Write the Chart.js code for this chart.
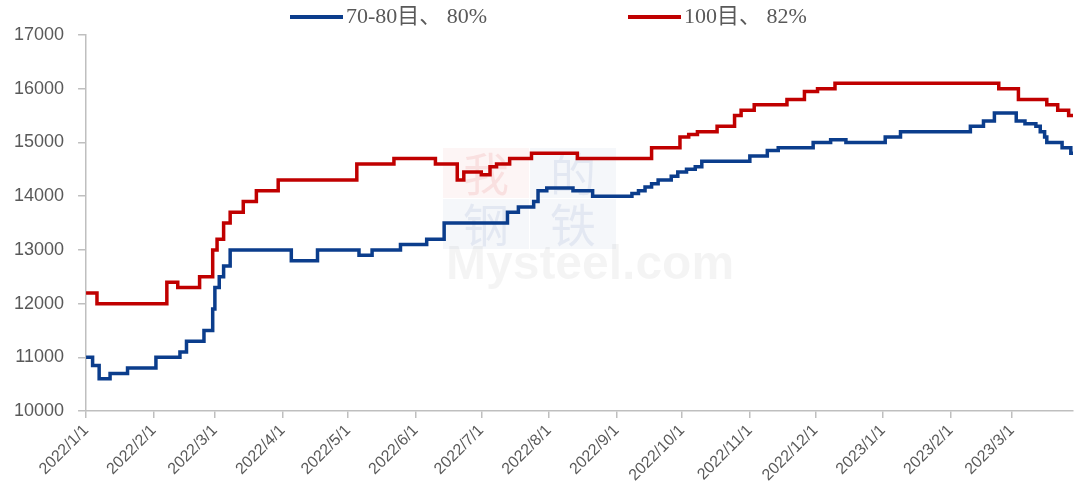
<!DOCTYPE html>
<html>
<head>
<meta charset="utf-8">
<script src="https://cdn.jsdelivr.net/npm/chart.js@4.4.1/dist/chart.umd.min.js"></script>
<style>
    html, body { margin: 0; padding: 0; background: #fff; }
    #wrap { width: 1074px; height: 500px; }
</style>
</head>
<body>
<div id="wrap"><canvas id="priceChart"></canvas></div>
<script>
// 70-80目、80% 价格（变动日期 / 数值）
const blueDates = ['2022-01-01','2022-01-04','2022-01-07','2022-01-12','2022-01-20','2022-02-02','2022-02-13','2022-02-16','2022-02-24','2022-02-28','2022-03-01','2022-03-03','2022-03-05','2022-03-08','2022-04-05','2022-04-17','2022-05-06','2022-05-12','2022-05-25','2022-06-06','2022-06-14','2022-07-13','2022-07-18','2022-07-25','2022-07-27','2022-07-31','2022-08-12','2022-08-21','2022-09-08','2022-09-11','2022-09-14','2022-09-17','2022-09-20','2022-09-26','2022-09-29','2022-10-03','2022-10-07','2022-10-10','2022-11-01','2022-11-09','2022-11-14','2022-11-30','2022-12-08','2022-12-15','2023-01-02','2023-01-09','2023-02-10','2023-02-16','2023-02-21','2023-03-03','2023-03-07','2023-03-12','2023-03-14','2023-03-16','2023-03-17','2023-03-24','2023-03-28','2023-03-29'];
const blueValues = [11000,10850,10600,10700,10800,11000,11100,11300,11500,11900,12300,12500,12700,13000,12800,13000,12900,13000,13100,13200,13500,13700,13800,13900,14100,14150,14100,14000,14050,14100,14170,14230,14300,14370,14450,14500,14550,14650,14750,14850,14900,15000,15050,15000,15100,15200,15300,15400,15550,15400,15350,15300,15200,15100,15000,14900,14800,14800];

// 100目、82% 价格
const redDates = ['2022-01-01','2022-01-06','2022-02-07','2022-02-12','2022-02-22','2022-02-28','2022-03-02','2022-03-05','2022-03-08','2022-03-14','2022-03-20','2022-03-30','2022-05-05','2022-05-22','2022-06-10','2022-06-20','2022-06-23','2022-07-01','2022-07-05','2022-07-08','2022-07-14','2022-07-24','2022-08-14','2022-09-17','2022-09-30','2022-10-04','2022-10-08','2022-10-17','2022-10-25','2022-10-28','2022-11-03','2022-11-18','2022-11-26','2022-12-02','2022-12-10','2023-02-23','2023-03-04','2023-03-17','2023-03-22','2023-03-27','2023-03-29'];
const redValues = [12200,12000,12400,12300,12500,13000,13200,13500,13700,13900,14100,14300,14600,14700,14600,14300,14450,14400,14550,14600,14700,14800,14700,14900,15100,15150,15200,15300,15500,15600,15700,15800,15950,16000,16100,16000,15800,15700,15600,15500,15500];

const seriesNames = ['70-80目、 80%', '100目、 82%'];
const seriesColors = ['#0b3d8c', '#c00000'];
const xTickLabels = ['2022/1/1','2022/2/1','2022/3/1','2022/4/1','2022/5/1','2022/6/1','2022/7/1','2022/8/1','2022/9/1','2022/10/1','2022/11/1','2022/12/1','2023/1/1','2023/2/1','2023/3/1'];
const xStart = '2022/1/1';
const xEnd = '2023/3/29';

// 日期 -> 距 2022/1/1 的天数
function dayOf(str) {
    const p = str.split(/[-\/]/).map(Number);
    return Math.round((Date.UTC(p[0], p[1] - 1, p[2]) - Date.UTC(2022, 0, 1)) / 86400000);
}

function toPoints(dates, values) {
    return dates.map((d, i) => ({ x: dayOf(d), y: values[i] }));
}

const tickLabelByDay = {};
xTickLabels.forEach(l => { tickLabelByDay[dayOf(l)] = l; });

// 水印
const watermark = {
    id: 'watermark',
    beforeDatasetsDraw(chart) {
        const ctx = chart.ctx;
        ctx.save();
        ctx.fillStyle = 'rgba(230,120,120,0.07)';
        ctx.fillRect(443, 148, 86, 50);
        ctx.fillStyle = 'rgba(120,140,190,0.07)';
        ctx.fillRect(530, 148, 86, 50);
        ctx.fillRect(443, 199, 86, 50);
        ctx.fillRect(530, 199, 86, 50);
        ctx.font = '46px "Noto Sans CJK SC"';
        ctx.textAlign = 'center';
        ctx.textBaseline = 'middle';
        ctx.fillStyle = 'rgba(230,120,120,0.16)';
        ctx.fillText('我', 486, 174);
        ctx.fillStyle = 'rgba(120,140,190,0.14)';
        ctx.fillText('的', 573, 174);
        ctx.fillText('钢', 486, 225);
        ctx.fillText('铁', 573, 225);
        ctx.font = 'bold 48px "Liberation Sans"';
        ctx.fillStyle = 'rgba(0,0,0,0.045)';
        ctx.textAlign = 'left';
        ctx.fillText('Mysteel.com', 446, 266);
        ctx.restore();
    }
};

// 顶部图例
const topLegend = {
    id: 'topLegend',
    afterDraw(chart) {
        const ctx = chart.ctx;
        const starts = [290, 628];
        ctx.save();
        ctx.font = '22px "Liberation Serif", "Noto Sans CJK SC", serif';
        ctx.textBaseline = 'middle';
        seriesNames.forEach((name, i) => {
            const x = starts[i];
            ctx.strokeStyle = seriesColors[i];
            ctx.lineWidth = 4;
            ctx.beginPath();
            ctx.moveTo(x, 17);
            ctx.lineTo(x + 53, 17);
            ctx.stroke();
            ctx.fillStyle = '#595959';
            ctx.fillText(name, x + 56, 17);
        });
        ctx.restore();
    }
};

new Chart(document.getElementById('priceChart'), {
    type: 'line',
    data: {
        datasets: [
            {
                label: seriesNames[0],
                data: toPoints(blueDates, blueValues),
                borderColor: seriesColors[0],
                borderWidth: 3.5,
                pointRadius: 0,
                stepped: 'before'
            },
            {
                label: seriesNames[1],
                data: toPoints(redDates, redValues),
                borderColor: seriesColors[1],
                borderWidth: 3.5,
                pointRadius: 0,
                stepped: 'before'
            }
        ]
    },
    options: {
        responsive: true,
        maintainAspectRatio: false,
        animation: false,
        layout: { padding: { left: 0, right: 1, top: 35, bottom: 12 } },
        plugins: {
            tooltip: { enabled: false },
            legend: { display: false }
        },
        scales: {
            x: {
                type: 'linear',
                min: dayOf(xStart),
                max: dayOf(xEnd),
                afterBuildTicks: axis => {
                    axis.ticks = xTickLabels.map(l => ({ value: dayOf(l) }));
                },
                grid: { drawOnChartArea: false, color: '#bfbfbf', tickLength: 7, lineWidth: 1.5 },
                border: { color: '#bfbfbf', width: 1.5 },
                ticks: {
                    autoSkip: false,
                    maxRotation: 45,
                    minRotation: 45,
                    color: '#595959',
                    font: { family: '"Liberation Sans", sans-serif', size: 16 },
                    callback: v => tickLabelByDay[v] || ''
                }
            },
            y: {
                min: 10000,
                max: 17000,
                grid: { drawOnChartArea: false, color: '#bfbfbf', tickLength: 8, lineWidth: 1.5 },
                border: { color: '#bfbfbf', width: 1.5 },
                ticks: {
                    stepSize: 1000,
                    color: '#595959',
                    padding: 14,
                    font: { family: '"Liberation Sans", sans-serif', size: 18 },
                    callback: v => String(v)
                }
            }
        }
    },
    plugins: [watermark, topLegend]
});
</script>
</body>
</html>
